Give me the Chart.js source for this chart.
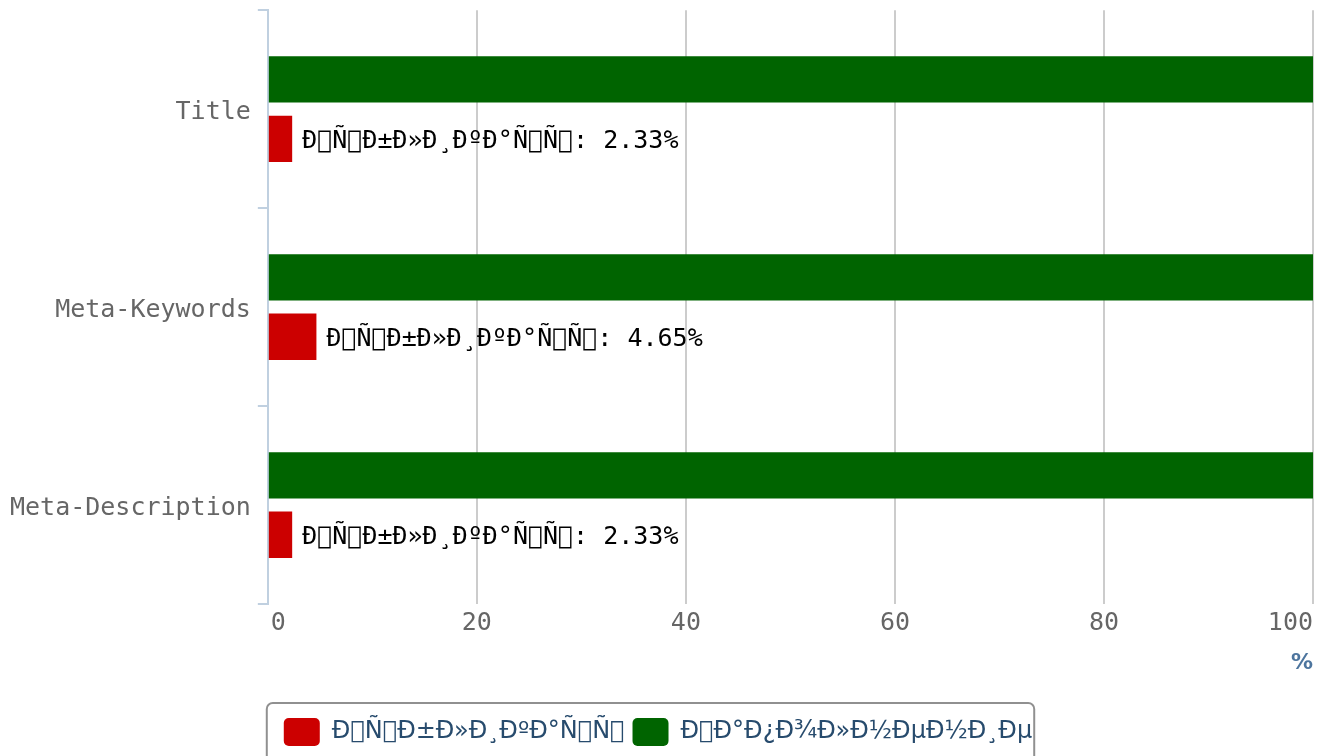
<!DOCTYPE html>
<html>
<head>
<meta charset="utf-8">
<script src="https://cdn.jsdelivr.net/npm/chart.js@4"></script>
<style>
  html, body { margin: 0; padding: 0; background: #fff; }
  #wrap { width: 1328px; height: 756px; }
</style>
</head>
<body>
<div id="wrap"><canvas id="js-chart"></canvas></div>
<script>
const categories = ["Title", "Meta-Keywords", "Meta-Description"];
const publishLabel = "Ð\uE000Ñ\uE000Ð±Ð»Ð¸ÐºÐ°Ñ\uE000Ñ\uE000";
const fillLabel = "Ð\uE000Ð°Ð¿Ð¾Ð»Ð½ÐµÐ½Ð¸Ðµ";
const publishValues = [2.33, 4.65, 2.33];
const fillValues = [100, 100, 100];
const xTicks = [0, 20, 40, 60, 80, 100];
const xTitle = "%";

const mono = "'DejaVu Sans Mono', monospace";

// value labels next to the red bars
const barLabels = {
  id: "barLabels",
  afterDatasetsDraw(chart) {
    const { ctx } = chart;
    const meta = chart.getDatasetMeta(1);
    ctx.save();
    ctx.font = `25px ${mono}`;
    ctx.fillStyle = "#000";
    ctx.textAlign = "left";
    ctx.textBaseline = "middle";
    meta.data.forEach((bar, i) => {
      ctx.fillText(`${publishLabel}: ${publishValues[i]}%`, bar.x + 10, bar.y + 3);
    });
    ctx.restore();
  }
};

// x tick labels (justified at the ends), axis title, legend frame
const extras = {
  id: "extras",
  afterDraw(chart) {
    const { ctx } = chart;
    const x = chart.scales.x;
    ctx.save();
    ctx.font = `25px ${mono}`;
    ctx.fillStyle = "#666";
    ctx.textBaseline = "middle";
    xTicks.forEach((v, i) => {
      const px = x.getPixelForValue(v);
      if (i === 0) { ctx.textAlign = "left"; ctx.fillText(String(v), px + 3, x.top + 19); }
      else if (i === xTicks.length - 1) { ctx.textAlign = "right"; ctx.fillText(String(v), px, x.top + 19); }
      else { ctx.textAlign = "center"; ctx.fillText(String(v), px, x.top + 19); }
    });

    ctx.font = `bold 22px 'DejaVu Sans', sans-serif`;
    ctx.fillStyle = "#4d759e";
    ctx.textAlign = "right";
    ctx.fillText(xTitle, x.right, x.top + 59);

    const boxes = chart.legend.legendHitBoxes;
    if (boxes && boxes.length) {
      const first = boxes[0];
      const last = boxes[boxes.length - 1];
      const left = first.left - 17;
      const right = last.left + last.width + 2;
      const top = first.top - 15;
      ctx.beginPath();
      ctx.roundRect(left, top, right - left, 100, 6);
      ctx.strokeStyle = "#909090";
      ctx.lineWidth = 2;
      ctx.stroke();
    }
    ctx.restore();
  }
};

new Chart(document.getElementById("js-chart"), {
  type: "bar",
  data: {
    labels: categories,
    datasets: [
      {
        label: fillLabel,
        data: fillValues,
        backgroundColor: "#006400",
        barPercentage: 0.78,
        categoryPercentage: 0.6
      },
      {
        label: publishLabel,
        data: publishValues,
        backgroundColor: "#cc0000",
        barPercentage: 0.78,
        categoryPercentage: 0.6
      }
    ]
  },
  options: {
    indexAxis: "y",
    responsive: true,
    maintainAspectRatio: false,
    animation: false,
    layout: { padding: { top: 0, left: 3, right: 15, bottom: 0 } },
    plugins: {
      tooltip: { enabled: false },
      legend: {
        position: "bottom",
        reverse: true,
        labels: {
          font: { family: "'DejaVu Sans', sans-serif", size: 24 },
          color: "#274b6d",
          boxWidth: 36,
          boxHeight: 28,
          useBorderRadius: true,
          borderRadius: 5,
          padding: 8
        }
      }
    },
    scales: {
      x: {
        min: 0,
        max: 100,
        ticks: { display: false, stepSize: 20 },
        grid: {
          color: (c) => (c.index === 0 ? "transparent" : "#cccccc"),
          lineWidth: 2,
          drawTicks: false
        },
        border: { display: false },
        afterFit: (s) => { s.height = 106; }
      },
      y: {
        ticks: {
          font: { family: mono, size: 25, lineHeight: 0.25 },
          color: "#666",
          padding: 7,
          labelOffset: 3
        },
        grid: {
          drawOnChartArea: false,
          tickLength: 10,
          color: "#c0d0e0",
          lineWidth: 2
        },
        border: { color: "#c0d0e0", width: 2 }
      }
    }
  },
  plugins: [barLabels, extras]
});
</script>
</body>
</html>
